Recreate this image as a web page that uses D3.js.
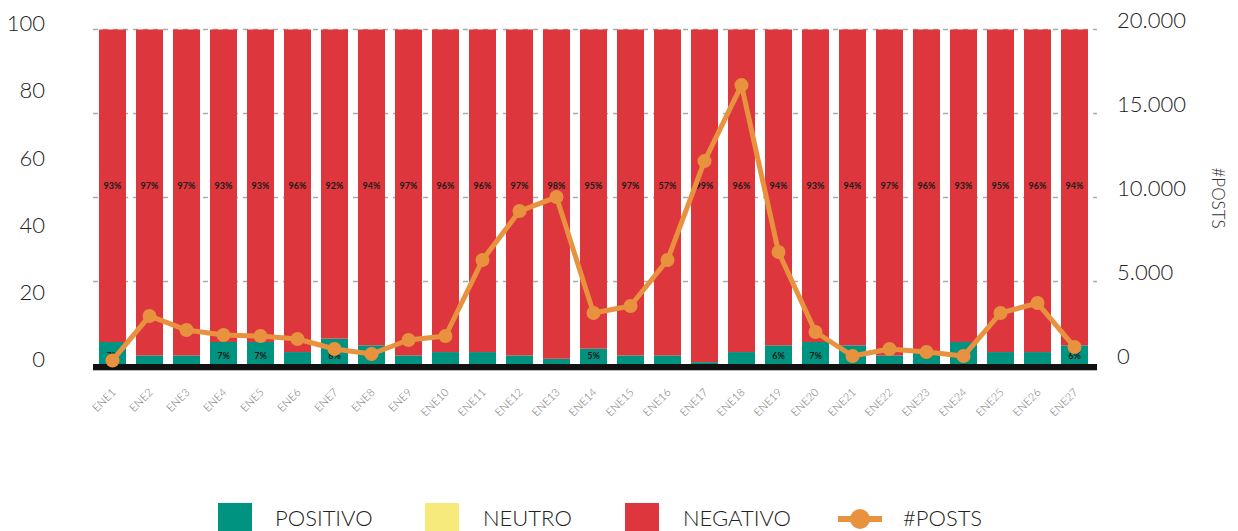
<!DOCTYPE html>
<html><head><meta charset="utf-8">
<script src="https://cdn.jsdelivr.net/npm/d3@7"></script>
<style>
body{margin:0;background:#fff;}
svg{display:block;font-family:Lato,"Open Sans",sans-serif;}
</style></head>
<body><svg id="c" width="1238" height="531"></svg>
<script>
const categories = ["ENE1","ENE2","ENE3","ENE4","ENE5","ENE6","ENE7","ENE8","ENE9","ENE10","ENE11","ENE12","ENE13","ENE14","ENE15","ENE16","ENE17","ENE18","ENE19","ENE20","ENE21","ENE22","ENE23","ENE24","ENE25","ENE26","ENE27"];
const positivo = [7,3,3,7,7,4,8,6,3,4,4,3,2,5,3,3,1,4,6,7,6,3,4,7,4,4,6];
const neutro   = [0,0,0,0,0,0,0,0,0,0,0,0,0,0,0,0,0,0,0,0,0,0,0,0,0,0,0];
const negativo = [93,97,97,93,93,96,92,94,97,96,96,97,98,95,97,57,99,96,94,93,94,97,96,93,95,96,94];
const posts = [300,2950,2110,1815,1755,1577,982,684,1517,1755,6277,9193,10026,3124,3540,6277,12168,16690,6753,1993,565,982,803,565,3124,3719,1100];
const leftTicks = [0,20,40,60,80,100];
const rightTicks = [0,5000,10000,15000,20000];
const legendItems = ["POSITIVO","NEUTRO","NEGATIVO","#POSTS"];

const C = {pos:"#009480", neu:"#F5EA7A", neg:"#DD363C", line:"#E8923F"};
const svg = d3.select("#c");

const x = d3.scaleBand().domain(categories).range([94,1093]).paddingInner(0.27).paddingOuter(0.135);
const yL = d3.scaleLinear().domain([0,100]).range([365.5,29.5]);
const yR = d3.scaleLinear().domain([0,20000]).range([365.5,29.5]);

// grid (dashed, right-axis ticks)
svg.append("g").selectAll("line").data(rightTicks).join("line")
  .attr("x1",93).attr("x2",1097).attr("y1",d=>yR(d)).attr("y2",d=>yR(d))
  .attr("stroke","#aaa").attr("stroke-width",1.5).attr("stroke-dasharray","5,5");

const data = categories.map((c,i)=>({c, pos:positivo[i], neu:neutro[i], neg:negativo[i], p:posts[i]}));

const bars = svg.append("g");
bars.selectAll("rect.pos").data(data).join("rect").attr("class","pos")
  .attr("x",d=>x(d.c)).attr("width",x.bandwidth())
  .attr("y",d=>yL(d.pos)).attr("height",d=>yL(0)-yL(d.pos)).attr("fill",C.pos);
bars.selectAll("rect.neu").data(data).join("rect").attr("class","neu")
  .attr("x",d=>x(d.c)).attr("width",x.bandwidth())
  .attr("y",d=>yL(d.pos+d.neu)).attr("height",d=>yL(d.pos)-yL(d.pos+d.neu)).attr("fill",C.neu);
bars.selectAll("rect.neg").data(data).join("rect").attr("class","neg")
  .attr("x",d=>x(d.c)).attr("width",x.bandwidth())
  .attr("y",yL(100)).attr("height",d=>yL(d.pos+d.neu)-yL(100)).attr("fill",C.neg);

// labels
bars.selectAll("text.nl").data(data).join("text").attr("class","nl")
  .attr("x",d=>x(d.c)+x.bandwidth()/2).attr("y",yL(53.5))
  .attr("text-anchor","middle").attr("dominant-baseline","central")
  .attr("font-size",9).attr("font-weight",700).attr("fill","#1a1a1a")
  .text(d=>d.neg+"%");
bars.selectAll("text.pl").data(data.filter(d=>d.pos>=5)).join("text").attr("class","pl")
  .attr("x",d=>x(d.c)+x.bandwidth()/2).attr("y",yL(3))
  .attr("text-anchor","middle").attr("dominant-baseline","central")
  .attr("font-size",9).attr("font-weight",700).attr("fill","#1a1a1a")
  .text(d=>d.pos+"%");

// baseline
svg.append("rect").attr("x",93).attr("y",yL(0)-1.5).attr("width",1004).attr("height",6).attr("fill","#111");
svg.append("line").attr("x1",93).attr("x2",1097).attr("y1",yL(0)+5).attr("y2",yL(0)+5).attr("stroke","#bbb").attr("stroke-width",1);

// line
const line = d3.line().x(d=>x(d.c)+x.bandwidth()/2).y(d=>yR(d.p));
svg.append("path").datum(data).attr("d",line).attr("fill","none")
  .attr("stroke",C.line).attr("stroke-width",5).attr("stroke-linejoin","round");
svg.append("g").selectAll("circle").data(data).join("circle")
  .attr("cx",d=>x(d.c)+x.bandwidth()/2).attr("cy",d=>yR(d.p)).attr("r",7).attr("fill",C.line);

// left axis
const axL = svg.append("g").attr("transform","translate(45,0)")
  .call(d3.axisLeft(yL).tickValues(leftTicks).tickSize(0).tickPadding(0));
axL.select(".domain").remove();
axL.selectAll("text").attr("font-size",22).attr("font-weight",300).attr("fill","#222")
  .attr("font-family","Lato,'Open Sans',sans-serif").attr("dy","0.05em");

// right axis
const axR = svg.append("g").attr("transform","translate(1117,0)")
  .call(d3.axisRight(yR).tickValues(rightTicks).tickSize(0).tickPadding(0)
    .tickFormat(d=>d3.format(",")(d).replace(/,/g,".")));
axR.select(".domain").remove();
axR.selectAll("text").attr("font-size",22).attr("font-weight",300).attr("fill","#222")
  .attr("font-family","Lato,'Open Sans',sans-serif").attr("dy","-0.1em");

svg.append("text").attr("transform","translate(1212,198) rotate(90)")
  .attr("text-anchor","middle").attr("font-size",17).attr("font-weight",300).attr("fill","#333").text("#POSTS");

// x axis labels
const axX = svg.append("g").attr("transform","translate(0,372)")
  .call(d3.axisBottom(x).tickSize(0).tickPadding(0));
axX.select(".domain").remove();
axX.selectAll("text").attr("font-size",11).attr("fill","#777").attr("font-weight",300)
  .attr("font-family","'Liberation Sans Narrow',Lato,sans-serif")
  .attr("text-anchor","end").attr("dy",0)
  .attr("transform","translate(4,21) rotate(-45)");

// legend
const lg = svg.append("g");
const lx = [218,425,625,838];
const tx = [275,483,683,903];
const fills = [C.pos,C.neu,C.neg];
legendItems.forEach((name,i)=>{
  if(i<3){
    lg.append("rect").attr("x",lx[i]).attr("y",503).attr("width",34).attr("height",34).attr("fill",fills[i]);
  } else {
    lg.append("line").attr("x1",lx[i]).attr("x2",lx[i]+44).attr("y1",519).attr("y2",519).attr("stroke",C.line).attr("stroke-width",6);
    lg.append("circle").attr("cx",lx[i]+22).attr("cy",519).attr("r",10).attr("fill",C.line);
  }
  lg.append("text").attr("x",tx[i]).attr("y",517).attr("dominant-baseline","central")
    .attr("font-size",22).attr("font-weight",300).attr("fill","#222").text(name);
});
</script></body></html>
